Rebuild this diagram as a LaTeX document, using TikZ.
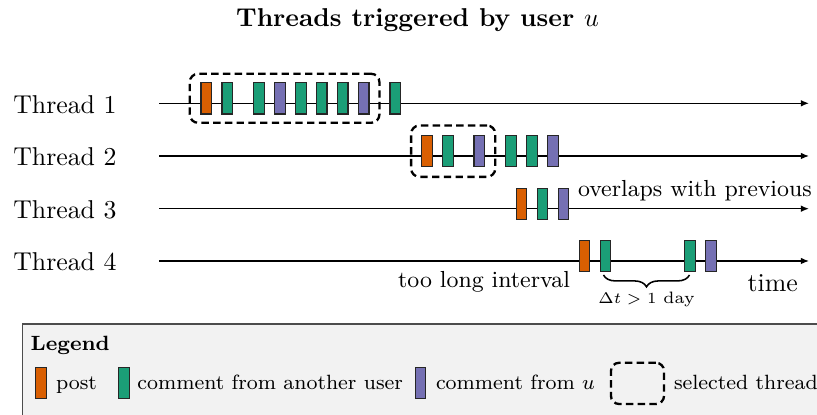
\documentclass[tikz,border=0pt]{standalone}
\usetikzlibrary{arrows.meta,decorations.pathreplacing}
\definecolor{colO}{HTML}{D95F02}
\definecolor{colG}{HTML}{1B9E77}
\definecolor{colP}{HTML}{7570B3}
\tikzset{
  evt/.style={draw=black!85, line width=0.4pt, minimum width=4.1pt, minimum height=12.1pt, inner sep=0pt, outer sep=0pt},
  tl/.style={line width=0.5pt, -{Latex[length=3.2pt,width=2.6pt]}},
  selbox/.style={draw=black, line width=0.9pt, dash pattern=on 2.85pt off 1.7pt, rounded corners=3.2pt},
  lbl/.style={inner sep=0pt, outer sep=0pt},
}
\begin{document}
\begin{tikzpicture}[x=0.3876pt, y=-0.3876pt]
\useasboundingbox (0,0) rectangle (817,415);
\clip (0,0) rectangle (817,415);
% title
\node[lbl, anchor=base] (title) at (417.5,27) {\bfseries Threads triggered by user $u$};
% thread labels and timelines
\foreach \i/\yy in {1/103.3,2/156,3/208.7,4/261}{
  \node[lbl, anchor=base west] (lab\i) at (13.3,\yy+10) {Thread \i};
  \coordinate (s\i) at (159,\yy);
  \coordinate (e\i) at (809,\yy);
  \draw[tl] (s\i) -- (e\i);
}
% events
\foreach \x/\c [count=\k] in {206.3/colO,227.3/colG,259/colG,280/colP,301/colG,321.7/colG,342.7/colG,363.7/colP,395.3/colG}
  \node[evt, fill=\c] (a\k) at (\x,98.4) {};
\foreach \x/\c [count=\k] in {427/colO,448/colG,479.3/colP,511/colG,532/colG,553/colP}
  \node[evt, fill=\c] (b\k) at (\x,151.1) {};
\foreach \x/\c [count=\k] in {521.5/colO,542.3/colG,563.6/colP}
  \node[evt, fill=\c] (c\k) at (\x,203.8) {};
\foreach \x/\c [count=\k] in {584.5/colO,605.5/colG,690/colG,711/colP}
  \node[evt, fill=\c] (d\k) at (\x,256.1) {};
% selected threads
\node[selbox, minimum width=73.5pt, minimum height=19.0pt, inner sep=0pt] (sel1) at (284.6,98.3) {};
\node[selbox, minimum width=32.6pt, minimum height=19.9pt, inner sep=0pt] (sel2) at (453.2,151.2) {};
% annotations
\node[lbl, anchor=base west, font=\small] (ovl) at (578,196.7) {overlaps with previous};
\node[lbl, anchor=base east, font=\small] (tli) at (570,287.3) {too long interval};
\node[lbl, anchor=base west] (time) at (747.7,291.7) {time};
\coordinate (br1) at (689.5,275);
\coordinate (br2) at (603.5,275);
\draw[line width=0.6pt, decorate, decoration={brace, amplitude=4.6pt}] (br1) -- (br2);
\node[lbl, anchor=base, font=\fontsize{6.4pt}{7.5pt}\selectfont] (dt) at (646.5,303.5) {$\Delta t > 1$ day};
% legend
\path[fill=black!5, draw=black!70, line width=0.5pt] (22.3,324) rectangle (840,440);
\node[lbl, anchor=base west, font=\footnotesize\bfseries] (leg) at (30.7,350.7) {Legend};
\node[evt, fill=colO] (lo) at (40.8,383.3) {};
\node[lbl, anchor=base west, font=\footnotesize] (lto) at (56,390) {post};
\node[evt, fill=colG] (lg) at (124.2,383.3) {};
\node[lbl, anchor=base west, font=\footnotesize] (ltg) at (137.3,390) {comment from another user};
\node[evt, fill=colP] (lp) at (420.5,383.3) {};
\node[lbl, anchor=base west, font=\footnotesize] (ltp) at (436,390) {comment from $u$};
\node[selbox, minimum width=20.6pt, minimum height=16.0pt, inner sep=0pt] (ls) at (637.5,383.4) {};
\node[lbl, anchor=base west, font=\footnotesize] (lts) at (674,390) {selected thread};
\end{tikzpicture}
\end{document}
